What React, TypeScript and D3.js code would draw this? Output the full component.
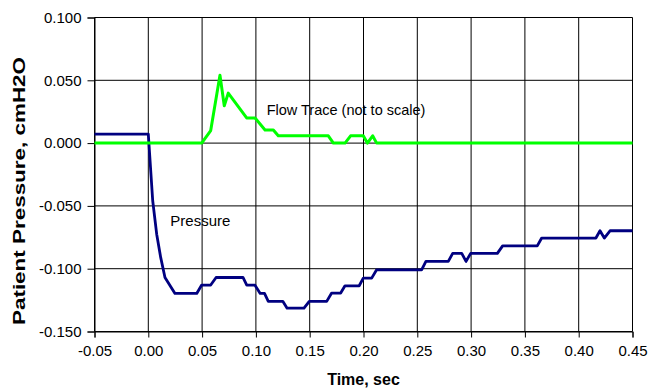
import React, { useEffect, useRef } from "react";
import * as d3 from "d3";

// Pressure trace (time in sec, pressure in cmH2O)
const pressureTime = [
  -0.05, 0.0, 0.0041, 0.0078, 0.0115, 0.0155, 0.0248, 0.045, 0.0496, 0.058, 0.063, 0.088, 0.0915, 0.099, 0.104,
  0.108, 0.1115, 0.125, 0.129, 0.1447, 0.1496, 0.1658, 0.1704, 0.1788, 0.1828, 0.196, 0.1998, 0.2076, 0.2122,
  0.254, 0.258, 0.2788, 0.2829, 0.2913, 0.2953, 0.2996, 0.3244, 0.3293, 0.3615, 0.3656, 0.416, 0.4198, 0.4238,
  0.4291, 0.45,
];
const pressureValue = [
  0.0072, 0.0072, -0.0459, -0.0725, -0.091, -0.107, -0.1197, -0.1197, -0.113, -0.113, -0.107, -0.107, -0.113,
  -0.113, -0.1197, -0.1197, -0.126, -0.126, -0.1314, -0.1314, -0.126, -0.126, -0.1194, -0.1194, -0.1136, -0.1136,
  -0.1075, -0.1075, -0.1009, -0.1009, -0.0942, -0.0942, -0.0878, -0.0878, -0.0942, -0.0878, -0.0878, -0.0818,
  -0.0818, -0.0756, -0.0756, -0.0698, -0.0756, -0.0698, -0.0698,
];

// Flow trace (not to scale)
const flowTime = [
  -0.05, 0.0496, 0.058, 0.0666, 0.0706, 0.0743, 0.0914, 0.0992, 0.1085, 0.1162, 0.1208, 0.1673, 0.172, 0.1828,
  0.188, 0.1998, 0.2036, 0.2085, 0.2122, 0.45,
];
const flowValue = [
  0, 0, 0.01, 0.0541, 0.0297, 0.0398, 0.02, 0.02, 0.0104, 0.0104, 0.0058, 0.0058, 0, 0, 0.0058, 0.0058, 0, 0.0058,
  0, 0,
];

const xTicks = [-0.05, 0, 0.05, 0.1, 0.15, 0.2, 0.25, 0.3, 0.35, 0.4, 0.45];
const yTicks = [0.1, 0.05, 0, -0.05, -0.1, -0.15];

const App = () => {
  const chartRef = useRef<SVGSVGElement>(null);

  useEffect(() => {
    const width = 648;
    const height = 390;
    const left = 94.5;
    const right = 632.5;
    const top = 17.5;
    const bottom = 331.5;
    const font = "Arial, 'Liberation Sans', sans-serif";

    const locale = d3.formatLocale({ decimal: ".", thousands: ",", grouping: [3], currency: ["", ""], minus: "-" });

    const x = d3.scaleLinear().domain([-0.05, 0.45]).range([left, right]);
    const y = d3.scaleLinear().domain([-0.15, 0.1]).range([bottom, top]);

    const svg = d3.select(chartRef.current);
    svg.selectAll("*").remove();
    svg.attr("width", width).attr("height", height);

    svg.append("rect").attr("width", width).attr("height", height).attr("fill", "#fff");

    // grid
    svg
      .selectAll(".vgrid")
      .data(xTicks)
      .enter()
      .append("line")
      .attr("x1", (d) => x(d))
      .attr("x2", (d) => x(d))
      .attr("y1", top)
      .attr("y2", bottom)
      .attr("stroke", "#000")
      .attr("stroke-width", 1);

    svg
      .selectAll(".hgrid")
      .data(yTicks)
      .enter()
      .append("line")
      .attr("x1", left)
      .attr("x2", right)
      .attr("y1", (d) => y(d))
      .attr("y2", (d) => y(d))
      .attr("stroke", "#000")
      .attr("stroke-width", 1);

    const xAxis = svg
      .append("g")
      .attr("transform", `translate(0, ${bottom})`)
      .call(d3.axisBottom(x).tickValues(xTicks).tickFormat(locale.format(".2f")).tickSize(6).tickPadding(8));
    xAxis.selectAll("text").style("font-family", font).style("font-size", "15px").style("fill", "#000");

    const yAxis = svg
      .append("g")
      .attr("transform", `translate(${left}, 0)`)
      .call(d3.axisLeft(y).tickValues(yTicks).tickFormat(locale.format(".3f")).tickSize(7).tickPadding(6));
    yAxis.selectAll("text").style("font-family", font).style("font-size", "15px").style("fill", "#000");

    svg.selectAll(".domain").attr("stroke", "#000");

    const pressurePts: [number, number][] = pressureTime.map((t, i) => [x(t), y(pressureValue[i])]);
    const flowPts: [number, number][] = flowTime.map((t, i) => [x(t), y(flowValue[i])]);

    svg
      .append("path")
      .attr("d", d3.line()(pressurePts))
      .attr("fill", "none")
      .attr("stroke", "#000080")
      .attr("stroke-width", 2.8)
      .attr("stroke-linejoin", "round");

    svg
      .append("path")
      .attr("d", d3.line()(flowPts))
      .attr("fill", "none")
      .attr("stroke", "#00ff00")
      .attr("stroke-width", 3)
      .attr("stroke-linejoin", "round");

    // labels
    svg
      .append("text")
      .attr("x", x(0.11))
      .attr("y", y(0.0265))
      .attr("dy", "0.35em")
      .style("font-family", font)
      .style("font-size", "14.5px")
      .text("Flow Trace (not to scale)");

    svg
      .append("text")
      .attr("x", x(0.0205))
      .attr("y", y(-0.0615))
      .attr("dy", "0.35em")
      .style("font-family", font)
      .style("font-size", "15px")
      .text("Pressure");

    svg
      .append("text")
      .attr("x", (left + right) / 2)
      .attr("y", 385)
      .attr("text-anchor", "middle")
      .style("font-family", font)
      .style("font-size", "16px")
      .style("font-weight", "bold")
      .text("Time, sec");

    svg
      .append("text")
      .attr("transform", "translate(25, 191) rotate(-90) scale(1.36, 1)")
      .attr("text-anchor", "middle")
      .style("font-family", font)
      .style("font-size", "16.5px")
      .style("font-weight", "bold")
      .text("Patient Pressure, cmH2O");
  }, []);

  return <svg ref={chartRef} style={{ position: "absolute", left: 0, top: 0 }}></svg>;
};

export default App;
